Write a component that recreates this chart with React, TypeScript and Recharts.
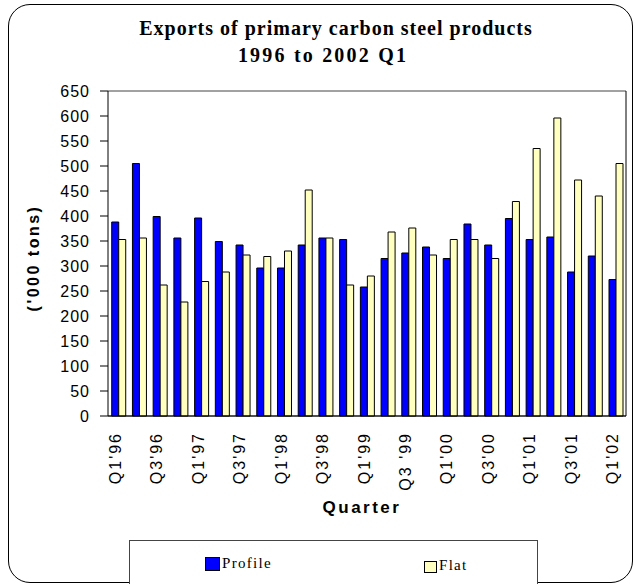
import React from 'react';
import { BarChart, Bar, XAxis, YAxis, CartesianGrid, Legend, Label } from 'recharts';

// quarters (the source shows "Q3 '99" with a space)
const quarters = [
  "Q1'96", "Q2'96", "Q3'96", "Q4'96",
  "Q1'97", "Q2'97", "Q3'97", "Q4'97",
  "Q1'98", "Q2'98", "Q3'98", "Q4'98",
  "Q1'99", "Q2'99", "Q3 '99", "Q4'99",
  "Q1'00", "Q2'00", "Q3'00", "Q4'00",
  "Q1'01", "Q2'01", "Q3'01", "Q4'01",
  "Q1'02",
];

// '000 tons
const profile = [388, 505, 399, 356, 396, 349, 342, 296, 296, 342, 356, 353, 258, 315, 326, 338, 315, 384, 342, 395, 353, 358, 288, 320, 273];
const flat = [353, 356, 262, 228, 269, 288, 322, 319, 330, 452, 356, 262, 280, 368, 376, 322, 353, 353, 315, 429, 535, 596, 472, 440, 505];

const seriesNames = ['Profile', 'Flat'];
const yTicks = [0, 50, 100, 150, 200, 250, 300, 350, 400, 450, 500, 550, 600, 650];

const data = quarters.map((q, i) => ({ q, profile: profile[i], flat: flat[i] }));

const SANS = '"Liberation Sans", Arial, sans-serif';
const SERIF = '"Liberation Serif", "Times New Roman", serif';

const XTick = (props: any) => {
  const { x, y, payload } = props;
  return (
    <g transform={`translate(${x},${y})`}>
      <text transform="rotate(-90)" x={-16} y={-3} dy="0.35em" textAnchor="end"
        fontFamily={SANS} fontSize={16} letterSpacing={2} fill="#000">
        {payload.value}
      </text>
    </g>
  );
};

const LegendBox = (props: any) => {
  const items = props.payload || [];
  const spots = [{ sx: 75, sy: 15, w: 13, h: 12 }, { sx: 294, sy: 17, w: 11, h: 10 }];
  return (
    <div style={{ position: 'relative', width: 409, height: 60, border: '1px solid #444', boxSizing: 'border-box', background: '#fff' }}>
      {seriesNames.map((name, i) => {
        const it = items.find((p: any) => p.value === name);
        if (!it) return null;
        const s = spots[i];
        return (
          <div key={name} style={{ position: 'absolute', left: s.sx, top: s.sy, display: 'flex', alignItems: 'flex-end' }}>
            <span style={{ display: 'inline-block', width: s.w, height: s.h, background: it.color, border: '1.5px solid #000' }} />
            <span style={{ fontFamily: SERIF, fontSize: 15, letterSpacing: 1.3, marginLeft: 2, lineHeight: '15px', color: '#000' }}>{name}</span>
          </div>
        );
      })}
    </div>
  );
};

export default function App() {
  return (
    <div style={{ position: 'absolute', left: 0, top: 0, width: 635, height: 584, overflow: 'hidden', background: '#fff' }}>
      <div style={{ position: 'absolute', left: 8, top: 4, width: 625, height: 579, border: '1.5px solid #000', borderRadius: 22, boxSizing: 'border-box' }} />
      <div style={{ position: 'absolute', left: 0, width: 672, top: 16, textAlign: 'center', fontFamily: SERIF, fontWeight: 'bold', fontSize: 20, letterSpacing: 1, lineHeight: '24px' }}>
        Exports of primary carbon steel products
      </div>
      <div style={{ position: 'absolute', left: 0, width: 646, top: 43, textAlign: 'center', fontFamily: SERIF, fontWeight: 'bold', fontSize: 20, letterSpacing: 2.2, lineHeight: '24px' }}>
        1996 to 2002 Q1
      </div>
      <div style={{ position: 'absolute', left: 0, top: 0 }}>
        <BarChart width={635} height={584} data={data}
          margin={{ top: 91, right: 4, bottom: 0, left: 0 }}
          barCategoryGap="18%" barGap={0}>
          <CartesianGrid vertical={false} stroke="#444" strokeWidth={1} />
          <XAxis dataKey="q" interval={1} height={168} tickLine={false} tickSize={0} tickMargin={0}
            axisLine={{ stroke: '#000' }} tick={<XTick />}>
            <Label content={() => (
              <text x={362} y={507} dy="0.35em" textAnchor="middle" fontFamily={SANS} fontWeight="bold" fontSize={17} letterSpacing={2.5} fill="#000">Quarter</text>
            )} />
          </XAxis>
          <YAxis yAxisId="l" width={108} domain={[0, 650]} ticks={yTicks} interval={0}
            tickSize={8} tickMargin={10} axisLine={{ stroke: '#000' }} tickLine={{ stroke: '#000' }}
            tick={{ fontFamily: SANS, fontSize: 16, letterSpacing: 1, fill: '#000' }}>
            <Label content={() => (
              <text x={33} y={258} transform="rotate(-90 33 258)" dy="0.35em" textAnchor="middle" fontFamily={SANS} fontWeight="bold" fontSize={16} letterSpacing={2.5} fill="#000">('000 tons)</text>
            )} />
          </YAxis>
          <YAxis yAxisId="r" orientation="right" width={5} domain={[0, 650]} tick={false} tickLine={false} axisLine={{ stroke: '#000' }} />
          <Bar yAxisId="l" dataKey="profile" name="Profile" fill="#0000FF" stroke="#000" strokeWidth={1} isAnimationActive={false} />
          <Bar yAxisId="l" dataKey="flat" name="Flat" fill="#FFFFC0" stroke="#000" strokeWidth={1} isAnimationActive={false} />
          <Legend layout="horizontal" verticalAlign="middle" align="center" content={<LegendBox />}
            wrapperStyle={{ left: 129, top: 540, width: 409, height: 60 }} />
        </BarChart>
      </div>
    </div>
  );
}
